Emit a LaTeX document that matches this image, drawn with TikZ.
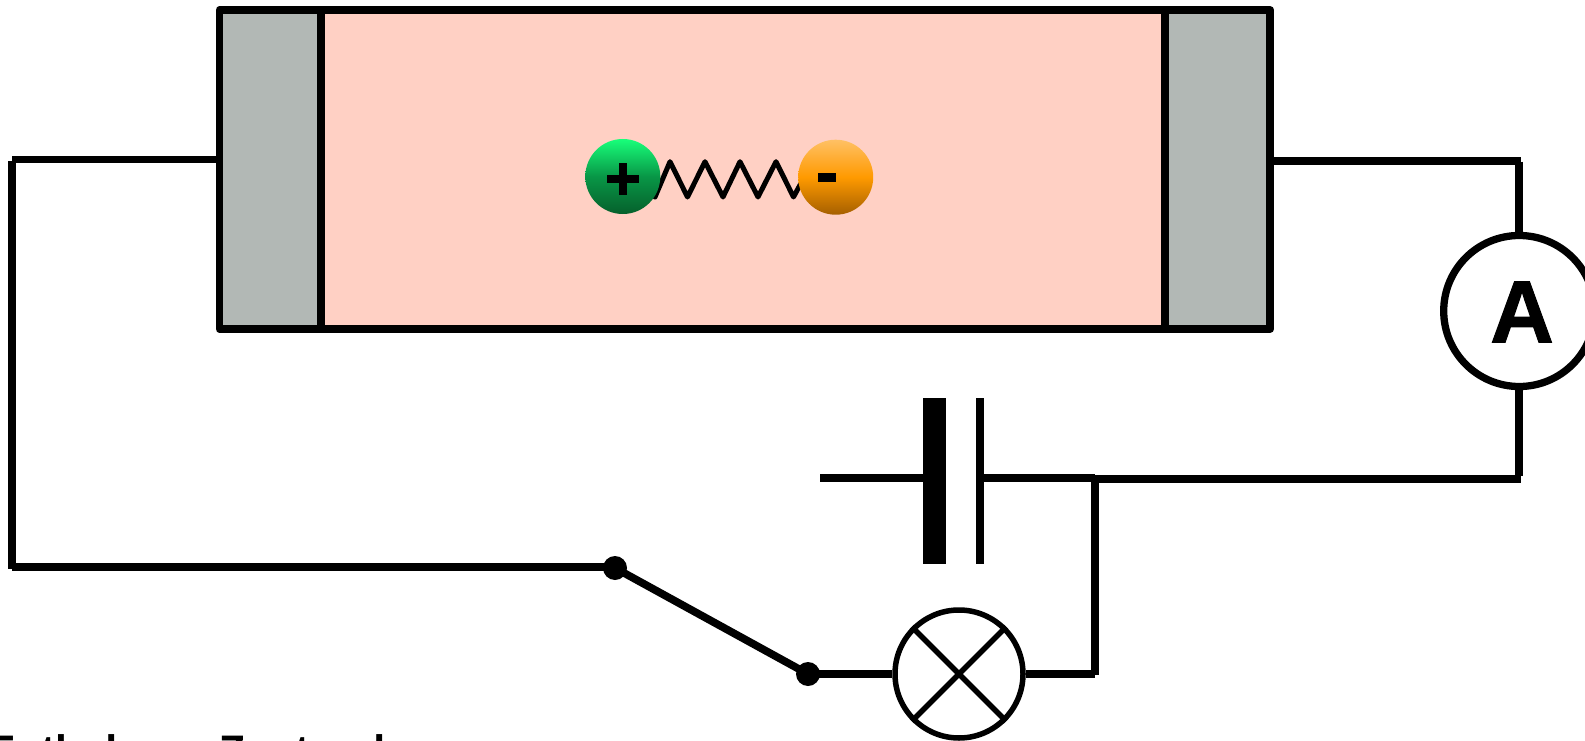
\documentclass[tikz,border=0pt]{standalone}
\usepackage{fontspec}
\setmainfont{Liberation Sans}
\newfontfamily\heavyfont{Liberation Sans Bold}[FakeBold=1.2]
\definecolor{plate}{HTML}{B2B8B5}
\definecolor{cell}{HTML}{FFD0C4}
\tikzset{
  wire/.style={draw=black,line width=7.7pt,line cap=butt},
  platebox/.style={rectangle,draw=black,fill=plate,line width=7.8pt,line join=round,minimum height=319pt,inner sep=0pt,outer sep=0pt,anchor=north west},
  cellbox/.style={rectangle,draw=black,fill=cell,line width=7.8pt,line join=round,minimum height=319pt,inner sep=0pt,outer sep=0pt,anchor=north west},
  contact/.style={circle,fill=black,minimum size=24pt,inner sep=0pt},
  charge/.style={circle,minimum size=75pt,inner sep=0pt,outer sep=0pt,shade},
  spring/.style={draw=black,line width=5pt,line join=round,line cap=round},
  bar/.style={rectangle,fill=black,inner sep=0pt,outer sep=0pt,anchor=north west}
}
\begin{document}
\begin{tikzpicture}[x=1pt,y=-1pt]
\useasboundingbox (0,0) rectangle (1585,741);
\clip (0,0) rectangle (1585,741);
% cell
\node[cellbox,minimum width=843.7pt] (cellbody) at (321,10) {};
\node[platebox,minimum width=101.5pt] (plateL) at (219.5,10) {};
\node[platebox,minimum width=105.6pt] (plateR) at (1164.7,10) {};
% named corners
\coordinate (tl) at (12.3,161);
\coordinate (bl) at (12.3,569.3);
\coordinate (tlH) at (12.3,159.5);
\coordinate (blH) at (12.3,567);
\coordinate (trH) at (1520.7,161);
\coordinate (trV) at (1519.2,161.7);
\coordinate (brV) at (1519.2,476);
\coordinate (brH) at (1520.7,479);
\coordinate (jnH) at (1095,479);
\coordinate (jnV) at (1095.3,479);
\coordinate (lampcornerV) at (1095.3,675);
\coordinate (lampcornerH) at (1095,674.3);
\coordinate (batfree) at (820,477.7);
\coordinate (batJoin) at (1095,477.7);
% wires
\draw[wire] (plateL.west |- tlH) -- (tlH);
\draw[wire] (tl) -- (bl);
\node[contact] (swA) at (615,568) {};
\node[contact] (swB) at (808,674) {};
\draw[wire] (blH) -- (swA.center |- blH);
\draw[wire] (swA.center) -- (swB.center);
\node[circle,draw=black,fill=white,line width=7.3pt,minimum size=151pt,inner sep=0pt] (amp) at (1519.2,311) {};
\node[font=\heavyfont\fontsize{88}{92}\selectfont,inner sep=0pt] (ampA) at (1522,312) {A};
\draw[wire] (plateR.east |- trH) -- (trH);
\draw[wire] (trV) -- (amp.north);
\draw[wire] (amp.south) -- (brV);
\draw[wire] (brH) -- (jnH);
% battery
\node[bar,minimum width=23pt,minimum height=166pt] (plus) at (923,398) {};
\node[bar,minimum width=8pt,minimum height=166pt] (minus) at (976,398) {};
\draw[wire] (batfree) -- (plus.west |- batfree);
\draw[wire] (minus.east |- batJoin) -- (batJoin);
\draw[wire] (jnV) -- (lampcornerV);
% lamp
\node[circle,draw=black,fill=white,line width=5.5pt,minimum size=128pt,inner sep=0pt] (lamp) at (959,674) {};
\draw[line width=5.5pt] (lamp.135) -- (lamp.-45);
\draw[line width=5.5pt] (lamp.45) -- (lamp.-135);
\draw[wire] (swB.center) -- (lamp.west);
\draw[wire] (lamp.east |- lampcornerH) -- (lampcornerH);
% spring
\coordinate (s0) at (655,197);
\coordinate (s9) at (800,185);
\draw[spring] (s0) -- (670,161.7) -- (687.5,197) -- (705,161.7) -- (723,197) -- (740,161.7) -- (758,197) -- (776,161.7) -- (793.5,197) -- (s9);
% charges
\node[charge,top color={rgb,255:red,24;green,255;blue,122},bottom color={rgb,255:red,6;green,96;blue,44},middle color={rgb,255:red,8;green,150;blue,70}] (pos) at (622.8,176.5) {};
\node[charge,top color={rgb,255:red,255;green,192;blue,100},bottom color={rgb,255:red,165;green,95;blue,0},middle color={rgb,255:red,255;green,154;blue,0}] (neg) at (835.7,177.2) {};
\node[rectangle,fill=black,minimum width=32pt,minimum height=8pt,inner sep=0pt] (plusH) at (623,179) {};
\node[rectangle,fill=black,minimum width=8pt,minimum height=32pt,inner sep=0pt] (plusV) at (623,179) {};
\node[rectangle,fill=black,minimum width=18pt,minimum height=9pt,inner sep=0pt] (minusH) at (827,177.5) {};
% caption
\node[font=\bfseries\fontsize{42.7}{46}\selectfont,inner sep=0pt,anchor=base west] (cap) at (-13,765.5) {Entladener Zustand};
\end{tikzpicture}
\end{document}
